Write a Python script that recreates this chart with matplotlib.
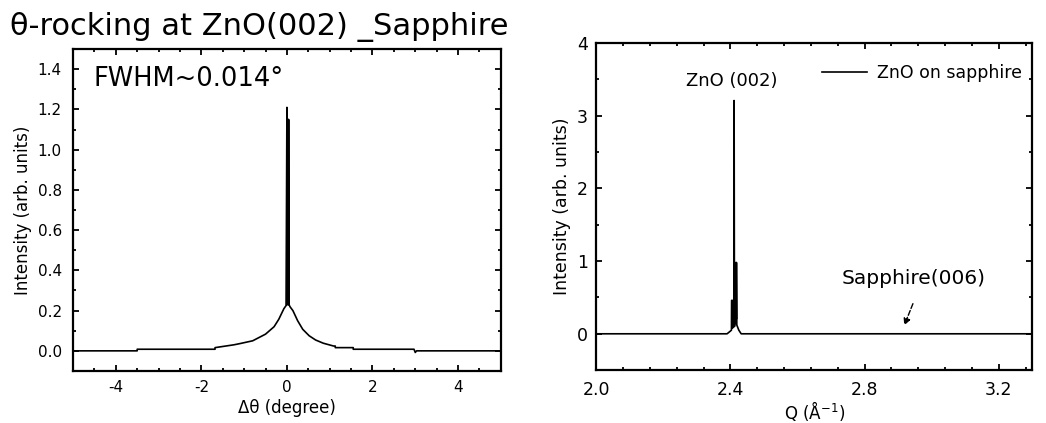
import matplotlib
matplotlib.use('Agg')
import matplotlib.pyplot as plt
from matplotlib.ticker import MultipleLocator

plt.rcParams['axes.unicode_minus'] = False

# theta-rocking curve at ZnO(002)
dtheta = [-5.0, -3.5, -3.5, -1.68, -1.68, -1.24, -1.1, -0.8, -0.5, -0.3, -0.19,
          -0.07, -0.02, 0.0, 0.005, 0.01, 0.02, 0.025, 0.035, 0.04, 0.05, 0.07,
          0.14, 0.25, 0.37, 0.52, 0.67, 0.85, 1.09, 1.13, 1.13, 1.55, 1.55,
          2.97, 3.0, 3.03, 5.0]
rock_int = [0.0, 0.0, 0.008, 0.008, 0.016, 0.03, 0.036, 0.05, 0.083, 0.12, 0.157,
            0.21, 0.225, 1.21, 0.23, 1.15, 0.23, 1.15, 0.23, 1.15, 0.23, 0.22,
            0.2, 0.15, 0.107, 0.075, 0.054, 0.038, 0.024, 0.024, 0.016, 0.016, 0.008,
            0.008, -0.008, 0.0, 0.0]

# theta-2theta scan, Q in 1/Angstrom
q = [2.0, 2.39, 2.398, 2.403, 2.4035, 2.406, 2.4065, 2.410, 2.411, 2.412,
     2.415, 2.4155, 2.417, 2.4175, 2.418, 2.419, 2.425, 2.432, 3.3]
q_int = [0.0, 0.0, 0.03, 0.05, 0.46, 0.46, 0.08, 0.1, 3.21, 0.1,
         0.2, 0.98, 0.98, 0.2, 0.98, 0.12, 0.05, 0.0, 0.0]


def style_ax(ax, lab_size, xpad, ypad):
    ax.tick_params(which='both', direction='in', top=True, right=True,
                   width=1.3, labelsize=lab_size)
    ax.tick_params(which='major', length=4.5)
    ax.tick_params(which='minor', length=2.5)
    ax.tick_params(axis='x', pad=xpad)
    ax.tick_params(axis='y', pad=ypad)
    for s in ax.spines.values():
        s.set_linewidth(1.6)


fig = plt.figure(figsize=(10.46, 4.23), dpi=100)

## left panel
ax1 = fig.add_axes([0.0698, 0.123, 0.409, 0.761])
ax1.plot(dtheta, rock_int, color='black', lw=1.2)
ax1.set_xlim(-5, 5)
ax1.set_ylim(-0.1, 1.5)
ax1.set_xticks([-4, -2, 0, 2, 4])
ax1.set_yticks([0.0, 0.2, 0.4, 0.6, 0.8, 1.0, 1.2, 1.4])
ax1.xaxis.set_minor_locator(MultipleLocator(0.5))
ax1.yaxis.set_minor_locator(MultipleLocator(0.1))
style_ax(ax1, 11, 6.5, 8)
ax1.set_xlabel('Δθ (degree)', fontsize=12, labelpad=3)
ax1.set_ylabel('Intensity (arb. units)', fontsize=12, labelpad=4)
ax1.text(-4.53, 1.318, 'FWHM~0.014°', fontsize=18.5, va='baseline')

fig.text(0.0096, 0.917, 'θ-rocking at ZnO(002) _Sapphire', fontsize=22,
         va='baseline', ha='left')

## right panel
ax2 = fig.add_axes([0.570, 0.125, 0.417, 0.773])
ax2.plot(q, q_int, color='black', lw=1.2, label='ZnO on sapphire')
ax2.set_xlim(2.0, 3.3)
ax2.set_ylim(-0.5, 4)
ax2.set_xticks([2.0, 2.4, 2.8, 3.2])
ax2.set_yticks([0, 1, 2, 3, 4])
ax2.xaxis.set_minor_locator(MultipleLocator(0.08))
ax2.yaxis.set_minor_locator(MultipleLocator(0.5))
style_ax(ax2, 12.5, 7.5, 6)
ax2.set_xlabel('Q (Å$^{-1}$)', fontsize=12, labelpad=0)
ax2.set_ylabel('Intensity (arb. units)', fontsize=12.5, labelpad=4)
ax2.text(2.403, 3.41, 'ZnO (002)', fontsize=13, ha='center', va='baseline')
ax2.text(2.73, 0.68, 'Sapphire(006)', fontsize=14.5, ha='left', va='baseline')
ax2.annotate('', xy=(2.915, 0.08), xytext=(2.947, 0.45),
             arrowprops=dict(arrowstyle='-|>', color='black', lw=1.0,
                             linestyle='--', mutation_scale=10))
ax2.legend(loc='center right', bbox_to_anchor=(0.977, 0.908), frameon=False,
           fontsize=12.5, handlelength=2.6, handletextpad=0.6,
           borderaxespad=0, borderpad=0)

fig.savefig('out.png', dpi=100)
